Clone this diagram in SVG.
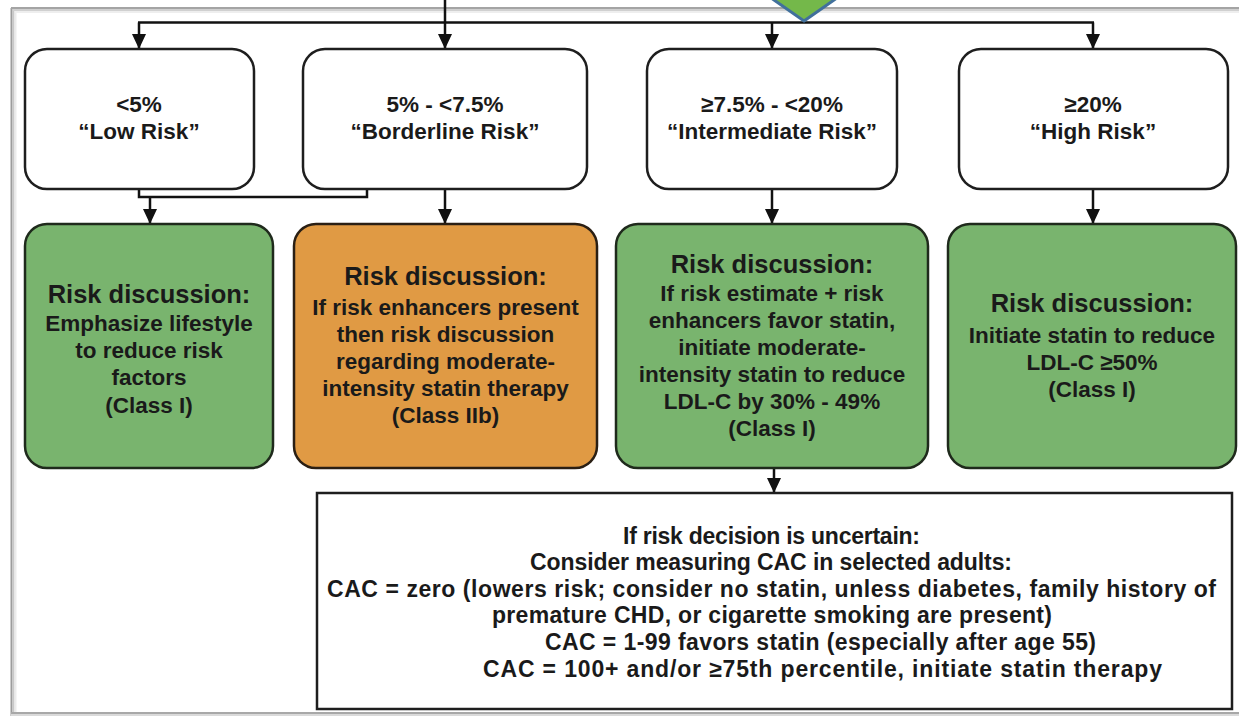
<svg xmlns="http://www.w3.org/2000/svg" width="1239" height="718" viewBox="0 0 1239 718">
<style>
.t{font-family:"Liberation Sans",Arial,sans-serif;font-weight:700;fill:#1a1a1a;text-anchor:middle}
.h{font-size:22.5px}
.ti{font-size:25.5px}
.b{font-size:22.5px}
.cb{font-size:23px}
.wb{fill:#fff;stroke:#1e1e1e;stroke-width:2.5}
.gb{fill:#79B46E;stroke:#1f2a1c;stroke-width:2.5}
.ob{fill:#E09A44;stroke:#2a1f14;stroke-width:2.5}
.c{fill:none;stroke:#111;stroke-width:2.5}
</style>
<defs>
<marker id="ah" viewBox="0 0 15 14" refX="15" refY="7" markerWidth="15" markerHeight="14" orient="auto" markerUnits="userSpaceOnUse">
<path d="M0,0 L15,7 L0,14 z" fill="#111"/>
</marker>
</defs>
<rect x="0" y="0" width="1239" height="718" fill="#fff"/>
<g id="frame">
<line x1="11.5" y1="8" x2="11.5" y2="716" stroke="#9c9c9c" stroke-width="2"/>
<line x1="13.5" y1="9" x2="13.5" y2="715" stroke="#c8c8c8" stroke-width="2"/>
<line x1="15.5" y1="10" x2="15.5" y2="714" stroke="#ebebeb" stroke-width="2"/>
<line x1="11" y1="8" x2="1239" y2="8" stroke="#a4a4a4" stroke-width="2"/>
<line x1="13" y1="10" x2="1239" y2="10" stroke="#d0d0d0" stroke-width="2"/>
<line x1="15" y1="12" x2="1239" y2="12" stroke="#eeeeee" stroke-width="2"/>
<line x1="11" y1="713" x2="1239" y2="713" stroke="#a8a8a8" stroke-width="2"/>
<line x1="11" y1="715" x2="1239" y2="715" stroke="#dadada" stroke-width="2"/>
</g>
<g id="connectors">
<line class="c" x1="445" y1="0" x2="445" y2="22.5"/>
<line class="c" x1="138" y1="22.5" x2="1094" y2="22.5"/>
<line class="c" x1="139" y1="22.5" x2="139" y2="49" marker-end="url(#ah)"/>
<line class="c" x1="445" y1="22.5" x2="445" y2="49" marker-end="url(#ah)"/>
<line class="c" x1="772" y1="22.5" x2="772" y2="49" marker-end="url(#ah)"/>
<line class="c" x1="1093" y1="22.5" x2="1093" y2="49" marker-end="url(#ah)"/>
<polyline class="c" points="139,189 139,197 367,197 367,189"/>
<line class="c" x1="150" y1="197" x2="150" y2="224" marker-end="url(#ah)"/>
<line class="c" x1="445" y1="189" x2="445" y2="224" marker-end="url(#ah)"/>
<line class="c" x1="772" y1="189" x2="772" y2="224" marker-end="url(#ah)"/>
<line class="c" x1="1093" y1="189" x2="1093" y2="224" marker-end="url(#ah)"/>
<line class="c" x1="774" y1="468" x2="774" y2="493" marker-end="url(#ah)"/>
</g>
<g id="start-diamond">
<polygon points="804,21 854,-14 804,-49 754,-14" fill="#74B84A" stroke="#41709C" stroke-width="3"/>
</g>
<g id="low-risk">
<rect class="wb" x="25" y="49" width="229" height="140" rx="22"/>
<text class="t h" x="139" y="112">&lt;5%</text>
<text class="t h" x="139" y="139">“Low Risk”</text>
</g>
<g id="borderline-risk">
<rect class="wb" x="303" y="49" width="284" height="140" rx="22"/>
<text class="t h" x="445" y="112">5% - &lt;7.5%</text>
<text class="t h" x="445" y="139">“Borderline Risk”</text>
</g>
<g id="intermediate-risk">
<rect class="wb" x="647" y="49" width="250" height="140" rx="22"/>
<text class="t h" x="772" y="112">≥7.5% - &lt;20%</text>
<text class="t h" x="772" y="139">“Intermediate Risk”</text>
</g>
<g id="high-risk">
<rect class="wb" x="959" y="49" width="269" height="140" rx="22"/>
<text class="t h" x="1093" y="112">≥20%</text>
<text class="t h" x="1093" y="139">“High Risk”</text>
</g>
<g id="low-action">
<rect class="gb" x="25" y="224" width="248" height="244" rx="22"/>
<text class="t ti" x="149" y="303">Risk discussion:</text>
<text class="t b" x="149" y="331">Emphasize lifestyle</text>
<text class="t b" x="149" y="358">to reduce risk</text>
<text class="t b" x="149" y="385">factors</text>
<text class="t b" x="149" y="413">(Class I)</text>
</g>
<g id="borderline-action">
<rect class="ob" x="294" y="224" width="303" height="244" rx="22"/>
<text class="t ti" x="445.5" y="285">Risk discussion:</text>
<text class="t b" x="445.5" y="315">If risk enhancers present</text>
<text class="t b" x="445.5" y="342">then risk discussion</text>
<text class="t b" x="445.5" y="369">regarding moderate-</text>
<text class="t b" x="445.5" y="396">intensity statin therapy</text>
<text class="t b" x="445.5" y="423">(Class IIb)</text>
</g>
<g id="intermediate-action">
<rect class="gb" x="616" y="224" width="312" height="244" rx="22"/>
<text class="t ti" x="772" y="273">Risk discussion:</text>
<text class="t b" x="772" y="301">If risk estimate + risk</text>
<text class="t b" x="772" y="328">enhancers favor statin,</text>
<text class="t b" x="772" y="355">initiate moderate-</text>
<text class="t b" x="772" y="382">intensity statin to reduce</text>
<text class="t b" x="772" y="409">LDL-C by 30% - 49%</text>
<text class="t b" x="772" y="436">(Class I)</text>
</g>
<g id="high-action">
<rect class="gb" x="948" y="224" width="288" height="244" rx="22"/>
<text class="t ti" x="1092" y="312">Risk discussion:</text>
<text class="t b" x="1092" y="343">Initiate statin to reduce</text>
<text class="t b" x="1092" y="370">LDL-C ≥50%</text>
<text class="t b" x="1092" y="397">(Class I)</text>
</g>
<g id="cac-box">
<rect x="317" y="493" width="915" height="216" fill="#fff" stroke="#1e1e1e" stroke-width="2.5"/>
<text class="t cb" x="771.5" y="544" textLength="297" lengthAdjust="spacing">If risk decision is uncertain:</text>
<text class="t cb" x="771" y="570" textLength="482" lengthAdjust="spacing">Consider measuring CAC in selected adults:</text>
<text class="t cb" x="771.5" y="597" textLength="889" lengthAdjust="spacing">CAC = zero (lowers risk; consider no statin, unless diabetes, family history of</text>
<text class="t cb" x="772" y="623" textLength="560" lengthAdjust="spacing">premature CHD, or cigarette smoking are present)</text>
<text class="t cb" x="820.5" y="650" textLength="551" lengthAdjust="spacing">CAC = 1-99 favors statin (especially after age 55)</text>
<text class="t cb" x="822.5" y="677" textLength="679" lengthAdjust="spacing">CAC = 100+ and/or ≥75th percentile, initiate statin therapy</text>
</g>
</svg>
